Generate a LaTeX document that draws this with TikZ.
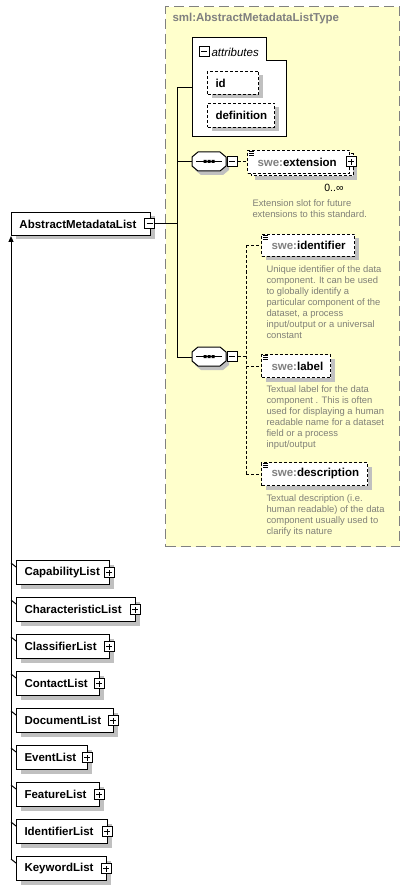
\documentclass[tikz,border=0pt]{standalone}
\usepackage{fontspec}
\setmainfont{Liberation Sans}
\usetikzlibrary{shadows,arrows.meta}
\definecolor{ylw}{RGB}{255,255,204}
\definecolor{shd}{RGB}{192,192,192}
\definecolor{dsc}{RGB}{128,128,120}
\definecolor{brd}{RGB}{128,128,128}
\newcommand{\lblfont}{\fontsize{11.5}{13}\selectfont\bfseries}
\newcommand{\dscfont}{\fontsize{9.4}{11}\selectfont}
% style, name, x, y, w, h, pad, text
\newcommand{\mkbox}[8]{%
  \pgfmathsetmacro{\mytw}{#5-2*#7}%
  \node[#1, minimum width=#5, minimum height=#6, inner xsep=#7pt, text width=\mytw pt] (#2) at (#3,#4) {\mbox{#8}};}
\newcommand{\plusbox}[2]{\node[pm] (#1) at (#2) {};
  \draw ([xshift=-3pt]#1.center) -- ([xshift=3pt]#1.center);
  \draw ([yshift=-3pt]#1.center) -- ([yshift=3pt]#1.center);}
\newcommand{\minusbox}[2]{\node[pm] (#1) at (#2) {};
  \draw ([xshift=-3pt]#1.center) -- ([xshift=3pt]#1.center);}
\newcommand{\octshape}{(0,5) -- (6,0) -- (28,0) -- (34,5) -- (34,14) -- (28,19) -- (6,19) -- (0,14) -- cycle}
\newcommand{\eqicon}[1]{%
  \draw[line width=0.6pt] ([xshift=2pt,yshift=-1pt]#1.north west) -- ++(5,0);
  \draw[line width=0.6pt] ([xshift=2pt,yshift=-3pt]#1.north west) -- ++(5,0);
  \draw[line width=0.6pt] ([xshift=2pt,yshift=-5pt]#1.north west) -- ++(5,0);}
\begin{document}
\begin{tikzpicture}[x=1pt,y=-1pt,line width=1pt,
  tbox/.style={draw=black, fill=white, anchor=north west, inner ysep=0pt, align=left, font=\lblfont,
    drop shadow={shadow xshift=4pt, shadow yshift=-4pt, fill=shd, opacity=1}},
  dbox/.style={tbox, dash pattern=on 3pt off 2pt},
  pm/.style={draw=black, fill=white, minimum size=10pt, inner sep=0pt, line width=1pt},
  dtext/.style={anchor=north west, align=left, inner sep=0pt, font=\dscfont, text=dsc},
  dsh/.style={dash pattern=on 3pt off 2pt}]
\useasboundingbox (0,0) rectangle (410,890);

% complex type container
\node[draw=brd, fill=ylw, dash pattern=on 10pt off 5pt, line width=1.2pt, minimum width=234, minimum height=540, anchor=north west, inner sep=0pt] (ctype) at (165,6) {};
\node[anchor=west, inner sep=0pt, text=brd, font=\lblfont] (ttl) at (172,19) {sml:AbstractMetadataListType};

% attributes group
\node[minimum width=94, minimum height=99, anchor=north west, inner sep=0pt] (attr) at (192,38) {};
\draw[fill=white] (192,38) -- (266,38) -- (266,61) -- (286,61) -- (286,137) -- (192,137) -- cycle;
\minusbox{attrm}{204,52}
\node[anchor=west, inner sep=0pt, font=\fontsize{11.5}{13}\selectfont\itshape] (attrt) at (211,52) {attributes};
\mkbox{dbox}{id}{207}{71}{51}{23}{8}{id}
\mkbox{dbox}{defn}{207}{103}{67}{24}{8}{definition}

% sequence compositors
\fill[shd, shift={(195,156)}] \octshape;
\node[minimum width=34, minimum height=19, anchor=north west, inner sep=0pt] (seqA) at (192,152) {};
\draw[fill=white, shift={(192,152)}] \octshape;
\draw[shift={(192,152)}] (4,9.5) -- (30,9.5);
\fill[shift={(192,152)}] (11.5,8) rectangle ++(3,3) (15.5,8) rectangle ++(3,3) (19.5,8) rectangle ++(3,3);
\minusbox{sAm}{232,161.5}

\fill[shd, shift={(195,351)}] \octshape;
\node[minimum width=34, minimum height=19, anchor=north west, inner sep=0pt] (seqB) at (192,347) {};
\draw[fill=white, shift={(192,347)}] \octshape;
\draw[shift={(192,347)}] (4,9.5) -- (30,9.5);
\fill[shift={(192,347)}] (11.5,8) rectangle ++(3,3) (15.5,8) rectangle ++(3,3) (19.5,8) rectangle ++(3,3);
\minusbox{sBm}{232,356.5}

% main connectors
\coordinate (jx) at (177,0);
\draw (attr.west) -- (attr.west -| jx) -- (seqB.west -| jx) -- (seqB.west);
\draw (seqA.west -| jx) -- (seqA.west);

% extension element (multiple)
\fill[shd] (255,158) rectangle (357,180);
\draw[fill=white, dsh] (251,154) rectangle (353,176);
\node[draw=black, fill=white, dsh, anchor=north west, inner ysep=0pt, minimum width=102, minimum height=23, inner xsep=10pt, text width=82pt, align=left, font=\lblfont] (ext) at (247,150) {\mbox{\textcolor{brd}{swe:}extension}};
\eqicon{ext}
\plusbox{extp}{[xshift=1pt]ext.east}
\draw[dsh] (sAm.east) -- (sAm.east -| ext.west);
\node[anchor=east, inner sep=0pt, font=\fontsize{10.5}{12}\selectfont] (extm) at (344,188) {0..∞};
\node[dtext] (extd) at (252,199) {Extension slot for future\\extensions to this standard.};

% choice-like members
\mkbox{dbox}{ident}{261}{234}{93}{22}{10}{\textcolor{brd}{swe:}identifier}
\mkbox{dbox}{lbl}{261}{354}{69}{23}{10}{\textcolor{brd}{swe:}label}
\mkbox{dbox}{desc}{261}{462}{106}{23}{10}{\textcolor{brd}{swe:}description}
\eqicon{ident}
\eqicon{lbl}
\eqicon{desc}
\coordinate (cx) at (246,0);
\draw[dsh] (sBm.east) -- (sBm.east -| cx);
\draw[dsh] (ident.west -| cx) -- (desc.west -| cx);
\draw[dsh] (ident.west -| cx) -- (ident.west);
\draw[dsh] (lbl.west -| cx) -- (lbl.west);
\draw[dsh] (desc.west -| cx) -- (desc.west);
\node[dtext] (identd) at (266,265) {Unique identifier of the data\\component. It can be used\\to globally identify a\\particular component of the\\dataset, a process\\input/output or a universal\\constant};
\node[dtext] (lbld) at (266,385) {Textual label for the data\\component . This is often\\used for displaying a human\\readable name for a dataset\\field or a process\\input/output};
\node[dtext] (descd) at (266,494) {Textual description (i.e.\\human readable) of the data\\component usually used to\\clarify its nature};

% base element
\mkbox{tbox}{aml}{11}{212}{139}{23}{8}{AbstractMetadataList}
\minusbox{amlm}{[xshift=-1.5pt]aml.east}
\draw (amlm.east) -- (amlm.east -| jx);

% derived elements
\foreach \nm/\txt/\yy/\ww in {cap/CapabilityList/560/93, chr/CharacteristicList/597/119,
  cls/ClassifierList/634/93, cnt/ContactList/671/83, doc/DocumentList/708/97,
  evt/EventList/745/71, fea/FeatureList/782/83, idl/IdentifierList/819/91, kwd/KeywordList/856/90}{
  \mkbox{tbox}{\nm}{16}{\yy}{\ww}{24}{8}{\txt}
  \plusbox{\nm p}{[xshift=-1pt]\nm.east}
  \draw ([yshift=-7pt]\nm.north west) -- ++(-5,-4);
}
\coordinate (tend) at (11,860);
\draw[-{Triangle[length=6pt,width=5pt]}] (tend) -- (aml.south west);
\end{tikzpicture}
\end{document}
